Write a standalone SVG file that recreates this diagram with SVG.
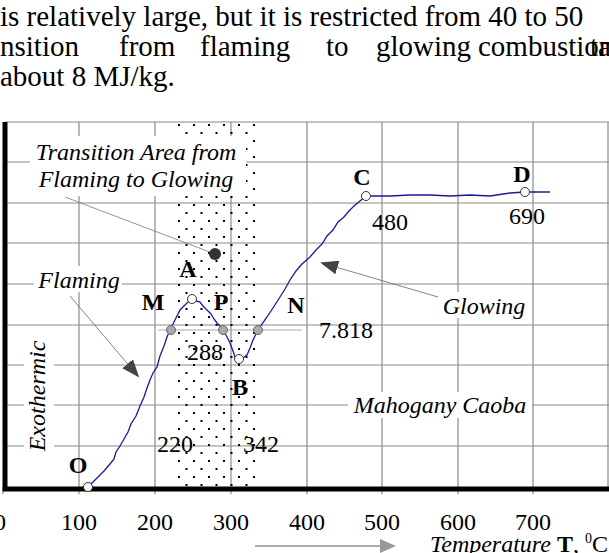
<svg xmlns="http://www.w3.org/2000/svg" width="609" height="553" viewBox="0 0 609 553">
<defs>
<style>
text{font-family:"Liberation Serif",serif;font-size:24px;fill:#000}
.cap{font-size:29px}
.i{font-style:italic}.b{font-weight:bold}
.g{stroke:#8a8a8a;stroke-width:1.2}
.lead{stroke:#777;stroke-width:0.8;fill:none}
.ow{fill:#fff;stroke:#333;stroke-width:1}
.gr{fill:#aaa;stroke:#666;stroke-width:1}
</style>
<pattern id="dots" x="176" y="122" width="15" height="16" patternUnits="userSpaceOnUse">
<rect x="2" y="2" width="2" height="2" fill="#000"/><rect x="9.5" y="10" width="2" height="2" fill="#000"/>
</pattern>
<marker id="ah2" markerWidth="18" markerHeight="14" refX="16" refY="7" orient="auto" markerUnits="userSpaceOnUse" viewBox="0 0 18 14"><path d="M0,0 L18,7 L0,14Z" fill="#444"/></marker>
</defs>
<rect width="609" height="553" fill="#fff"/>
<g id="caption">
<text class="cap" x="0" y="26">is relatively large, but it is restricted from 40 to 50</text>
<text class="cap" x="0" y="56">nsition</text><text class="cap" x="119" y="56">from</text><text class="cap" x="200" y="56">flaming</text><text class="cap" x="326" y="56">to</text><text class="cap" x="376" y="56">glowing</text><text class="cap" x="478" y="56">combustion</text><text class="cap" x="590" y="56">ta</text>
<text class="cap" x="0" y="86">about 8 MJ/kg.</text>
</g>
<g id="grid">
<path class="g" d="M5,122H609M5,162H609M5,203H609M5,243H609M5,284H609M5,325H609M5,365H609M5,405H609M5,446H609"/>
<path class="g" d="M79,122V487M155,122V487M231,122V487M307,122V487M382,122V487M458,122V487M533,122V487M608,122V487"/>
<path class="g" d="M3,487v7M79,487v7M155,487v7M231,487v7M307,487v7M382,487v7M458,487v7M533,487v7"/>
</g>
<rect id="zone" x="176" y="122" width="82" height="365" fill="url(#dots)"/>
<g id="axes"><path d="M5,122V489H609" stroke="#000" stroke-width="5" fill="none"/></g>
<g id="labels-bg" fill="#fff">
<rect x="30" y="136" width="216" height="60"/>
<rect x="34" y="266" width="88" height="26"/>
<rect x="436" y="292" width="96" height="26"/>
<rect x="348" y="392" width="184" height="26"/>
<rect x="24" y="335" width="30" height="124"/>
</g>
<g id="connectors">
<path class="lead" d="M65,197L215,254"/>
<path class="lead" d="M70,296L138,376" marker-end="url(#ah2)" style="stroke:#666"/>
<path class="lead" d="M438,297L322,263" marker-end="url(#ah2)" style="stroke:#666"/>
<path class="lead" d="M158,330H302" style="stroke:#999"/>
<path d="M255,546H380" stroke="#aaa" stroke-width="2"/><path d="M380,539L396,546L380,553Z" fill="#999"/>
</g>
<g id="curve"><path fill="none" stroke="#1a1a9a" stroke-width="1.3" d="M88,487L96,479L104,471L110,464L114,459L116,452L120,446L124,439L128,432L131,424L136,416L140,406L144,397L147,388L150,380L153,373L157,367L160,356L164,346L167,337L170,330L175,320L180,310L184,306L187,303L192,299L196,301L200,302L203,306L207,310L211,314L214,319L217,323L220,326L223,330L227,337L230,343L233,351L235,357L239,359L243,358L247,355L250,348L253,340L256,334L258,330L262,324L267,317L273,308L280,297L285,289L290,280L296,271L302,264L310,257L316,250L322,244L327,236L333,230L338,222L344,217L349,211L354,206L360,201L366,196L375,196L390,196L410,195L430,195L450,196L470,195L490,196L510,193L525,192L540,192L550,192"/></g>
<g id="points">
<circle class="ow" cx="88" cy="487" r="4.5"/>
<circle class="gr" cx="171" cy="330" r="4.5"/>
<circle class="ow" cx="192" cy="299" r="4.5"/>
<circle class="gr" cx="223" cy="330" r="4.5"/>
<circle class="ow" cx="239" cy="359" r="4.5"/>
<circle class="gr" cx="258" cy="330" r="4.5"/>
<circle class="ow" cx="366" cy="196" r="4.5"/>
<circle class="ow" cx="525" cy="192" r="4.5"/>
<circle cx="215" cy="254" r="6" fill="#333"/>
</g>
<g id="texts">
<text class="i" x="136" y="160" text-anchor="middle">Transition Area from</text>
<text class="i" x="136" y="187" text-anchor="middle">Flaming to Glowing</text>
<text class="i" x="79" y="288" text-anchor="middle">Flaming</text>
<text class="i" x="484" y="314" text-anchor="middle">Glowing</text>
<text class="i" x="440" y="413" text-anchor="middle">Mahogany Caoba</text>
<text class="i" transform="translate(45,396) rotate(-90)" text-anchor="middle">Exothermic</text>
<text class="b" x="188" y="277" text-anchor="middle">A</text>
<text class="b" x="153" y="310" text-anchor="middle">M</text>
<text class="b" x="221" y="310" text-anchor="middle">P</text>
<text class="b" x="296" y="313" text-anchor="middle">N</text>
<text class="b" x="240" y="395" text-anchor="middle">B</text>
<text class="b" x="362" y="185" text-anchor="middle">C</text>
<text class="b" x="522" y="182" text-anchor="middle">D</text>
<text class="b" x="78" y="473" text-anchor="middle">O</text>
<text x="346" y="338" text-anchor="middle">7.818</text>
<text x="205" y="360" text-anchor="middle">288</text>
<text x="175" y="452" text-anchor="middle">220</text>
<text x="261" y="452" text-anchor="middle">342</text>
<text x="390" y="230" text-anchor="middle">480</text>
<text x="527" y="224" text-anchor="middle">690</text>
<g text-anchor="middle"><text x="0" y="530">0</text><text x="79" y="530">100</text><text x="155" y="530">200</text><text x="231" y="530">300</text><text x="307" y="530">400</text><text x="382" y="530">500</text><text x="458" y="530">600</text><text x="533" y="530">700</text></g>
<text x="608" y="552" text-anchor="end"><tspan class="i">Temperature </tspan><tspan class="b">T</tspan>, <tspan dy="-9" style="font-size:14px">0</tspan><tspan dy="9">C</tspan></text>
</g>
</svg>
